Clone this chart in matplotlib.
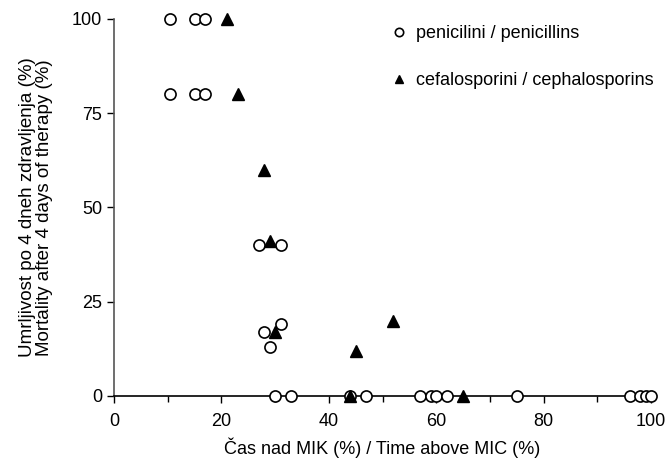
import matplotlib.pyplot as plt
import numpy as np

plt.rcParams['font.family'] = ['Liberation Sans', 'DejaVu Sans']

# penicillins (open circles)
pen_x = [10.5, 15, 17, 10.5, 15, 17, 27, 31, 28, 31, 29,
         30, 33, 44, 47, 57, 59, 60, 62, 75, 96, 98, 99, 100]
pen_y = [100, 100, 100, 80, 80, 80, 40, 40, 17, 19, 13,
         0, 0, 0, 0, 0, 0, 0, 0, 0, 0, 0, 0, 0]

# cephalosporins (filled triangles)
cef_x = [21, 23, 28, 29, 30, 45, 52, 44, 65]
cef_y = [100, 80, 60, 41, 17, 12, 20, 0, 0]

fig = plt.figure(figsize=(6.67, 4.61), dpi=100)
ax = fig.add_axes([0.171, 0.141, 0.805, 0.818])

ax.plot(pen_x, pen_y, 'o', mfc='white', mec='black', mew=1.2, ms=8,
        clip_on=False, zorder=3, label='penicilini / penicillins')
ax.plot(cef_x, cef_y, '^', mfc='black', mec='black', ms=8,
        clip_on=False, zorder=4, label='cefalosporini / cephalosporins')

ax.set_xlim(0, 100)
ax.set_ylim(0, 100)
ax.set_xticks([0, 20, 40, 60, 80, 100])
ax.set_xticks([10, 30, 50, 70, 90], minor=True)
ax.set_yticks([0, 25, 50, 75, 100])

ax.spines['top'].set_visible(False)
ax.spines['right'].set_visible(False)
ax.spines['left'].set_color('#555555')
ax.spines['left'].set_linewidth(1.2)
ax.spines['bottom'].set_linewidth(1.2)

ax.tick_params(axis='both', which='major', labelsize=13, length=5, width=1)
ax.tick_params(axis='x', which='minor', length=4, width=1)
ax.tick_params(axis='x', pad=7)

ax.set_xlabel('Čas nad MIK (%) / Time above MIC (%)', fontsize=13, labelpad=6)
ax.set_ylabel('Umrljivost po 4 dneh zdravljenja (%)\nMortality after 4 days of therapy (%)',
              fontsize=13.5, labelpad=14, linespacing=1.0)

leg = ax.legend(loc='upper left', bbox_to_anchor=(0.501, 1.003), frameon=False,
                fontsize=13, labelspacing=1.66, handletextpad=0.4,
                handlelength=1.0, borderaxespad=0, markerscale=0.75)

fig.savefig('out.png', dpi=100)
